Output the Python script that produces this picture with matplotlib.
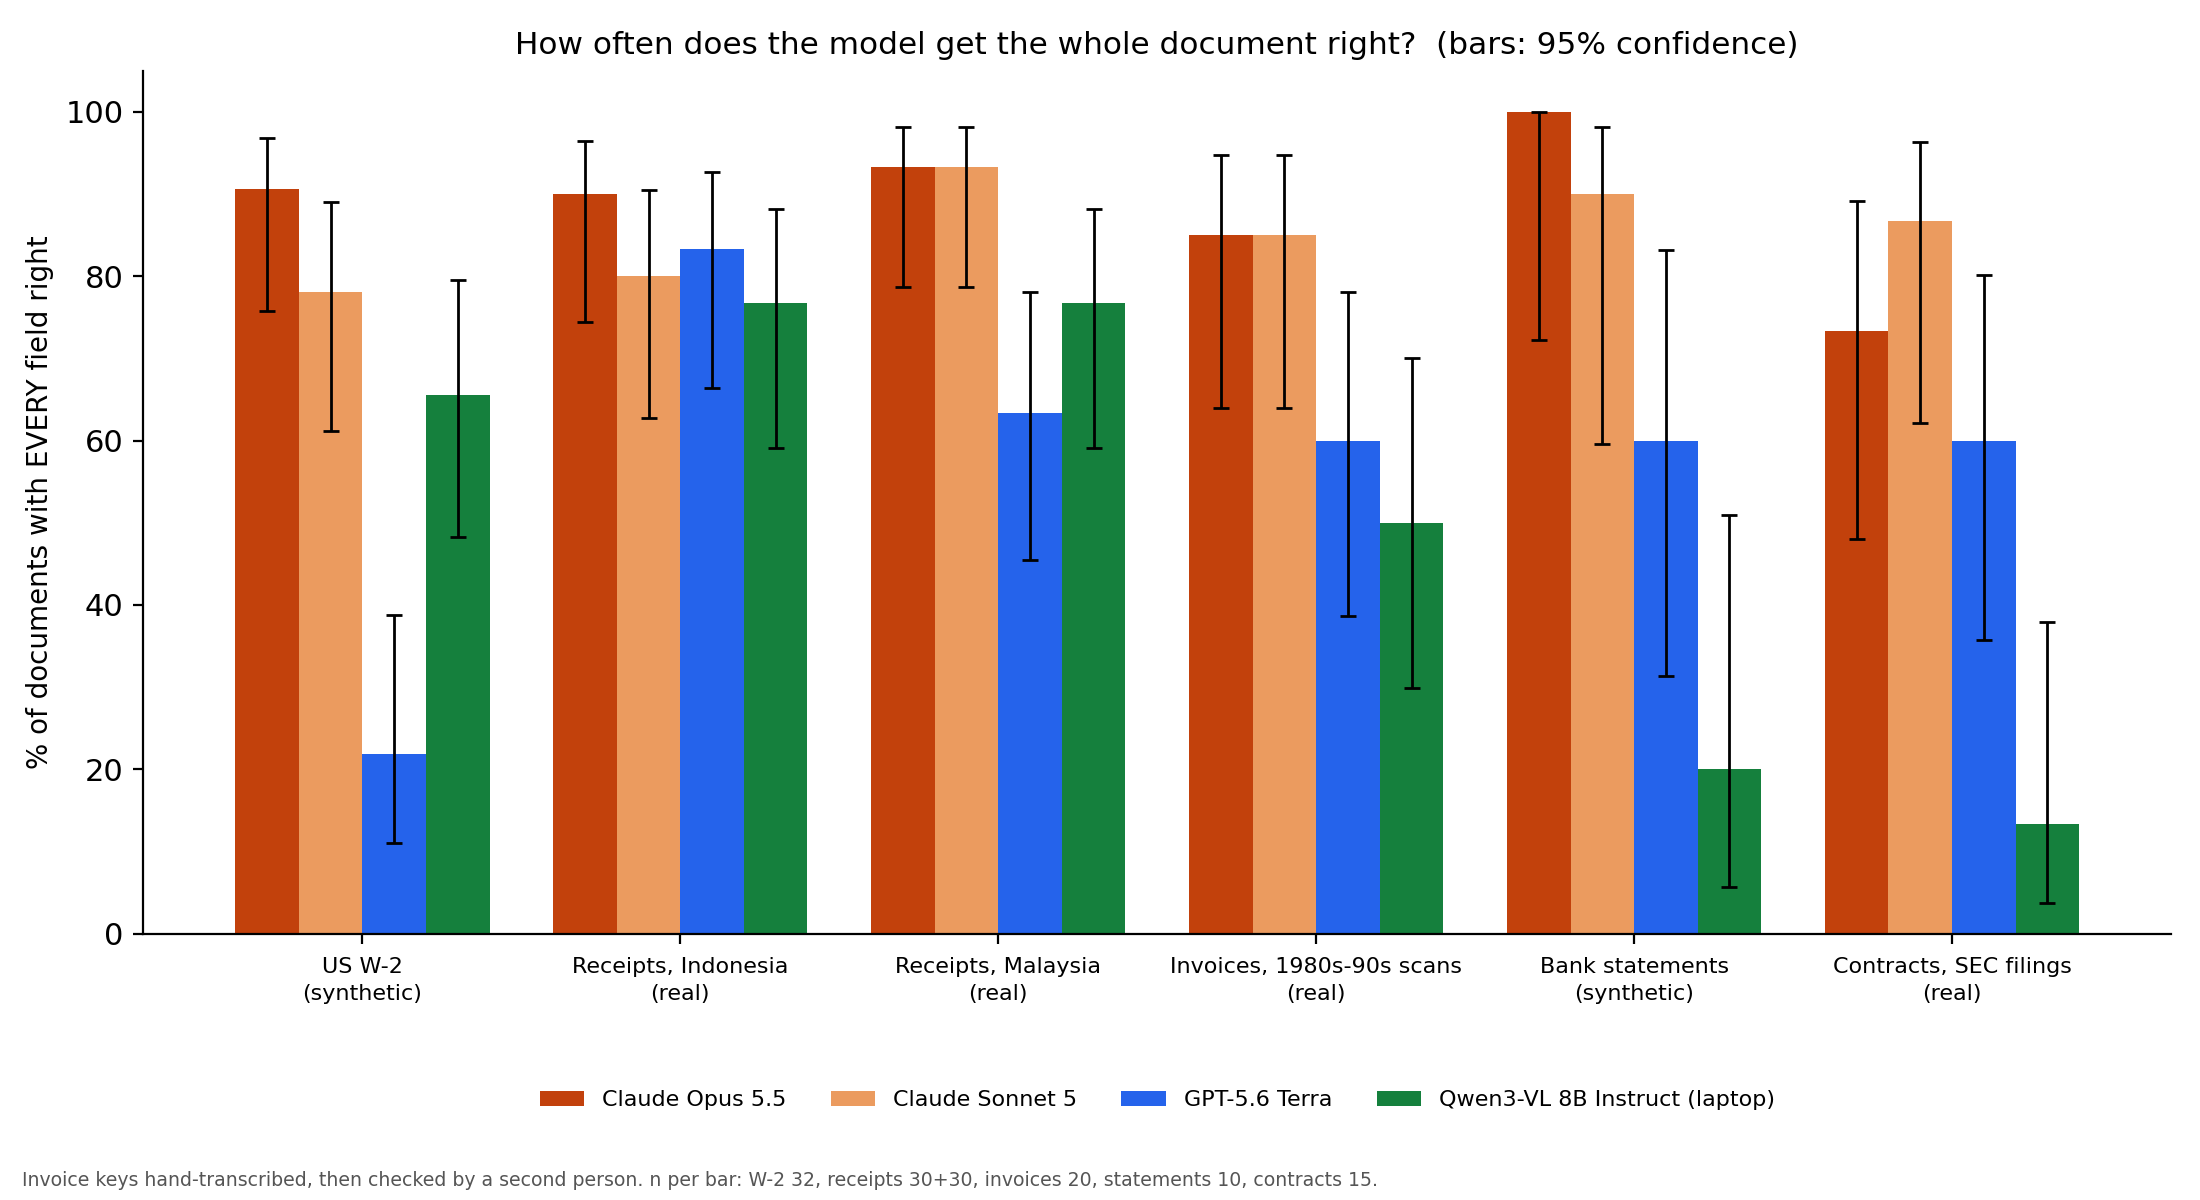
"""Whole-document accuracy per dataset and model, with 95% Wilson intervals."""
import numpy as np
import matplotlib
matplotlib.use("Agg")
import matplotlib.pyplot as plt

datasets = ["US W-2\n(synthetic)", "Receipts, Indonesia\n(real)", "Receipts, Malaysia\n(real)",
            "Invoices, 1980s-90s scans\n(real)", "Bank statements\n(synthetic)", "Contracts, SEC filings\n(real)"]
models = ["Claude Opus 5.5", "Claude Sonnet 5", "GPT-5.6 Terra", "Qwen3-VL 8B Instruct (laptop)"]
colors = ["#c2410c", "#eb9b5f", "#2563eb", "#15803d"]

# % of documents with every field right
opus = [90.6, 90.0, 93.3, 85.0, 100.0, 73.3]
sonnet = [78.1, 80.0, 93.3, 85.0, 90.0, 86.7]
gpt = [21.9, 83.3, 63.3, 60.0, 60.0, 60.0]
qwen = [65.6, 76.7, 76.7, 50.0, 20.0, 13.3]

# 95% interval bounds
opus_lo = [75.8, 74.4, 78.7, 64.0, 72.2, 48.0]
opus_hi = [96.8, 96.5, 98.2, 94.8, 100.0, 89.1]
sonnet_lo = [61.2, 62.7, 78.7, 64.0, 59.6, 62.1]
sonnet_hi = [89.0, 90.5, 98.2, 94.8, 98.2, 96.3]
gpt_lo = [11.0, 66.4, 45.5, 38.7, 31.3, 35.7]
gpt_hi = [38.8, 92.7, 78.1, 78.1, 83.2, 80.2]
qwen_lo = [48.3, 59.1, 59.1, 29.9, 5.7, 3.7]
qwen_hi = [79.6, 88.2, 88.2, 70.1, 51.0, 37.9]

values = [opus, sonnet, gpt, qwen]
lows = [opus_lo, sonnet_lo, gpt_lo, qwen_lo]
highs = [opus_hi, sonnet_hi, gpt_hi, qwen_hi]

fig, ax = plt.subplots(figsize=(11, 6), dpi=200)
fig.subplots_adjust(left=0.065, right=0.987, top=0.941, bottom=0.222)

x = np.arange(len(datasets))
w = 0.2
for i, (m, c) in enumerate(zip(models, colors)):
    v = np.array(values[i]); lo = np.array(lows[i]); hi = np.array(highs[i])
    pos = x + (i - 1.5) * w
    ax.bar(pos, v, w, color=c, label=m)
    ax.errorbar(pos, v, yerr=[v - lo, hi - v], fmt="none", ecolor="black", elinewidth=1, capsize=3, capthick=1)

ax.set_xticks(x)
ax.set_xticklabels(datasets, fontsize=8, linespacing=1.4)
ax.tick_params(axis="x", pad=5)
ax.set_ylim(0, 105)
ax.set_ylabel("% of documents with EVERY field right", fontsize=10)
ax.set_title("How often does the model get the whole document right?  (bars: 95% confidence)", fontsize=11.2)
ax.tick_params(axis="y", labelsize=11)
ax.spines["top"].set_visible(False); ax.spines["right"].set_visible(False)

ax.legend(loc="center", bbox_to_anchor=(0.5, -0.193), ncol=4, frameon=False, fontsize=8)
fig.text(0.01, 0.012, "Invoice keys hand-transcribed, then checked by a second person. n per bar: W-2 32, "
         "receipts 30+30, invoices 20, statements 10, contracts 15.", fontsize=6.8, color="#555555")

fig.savefig("out.png", dpi=200)
